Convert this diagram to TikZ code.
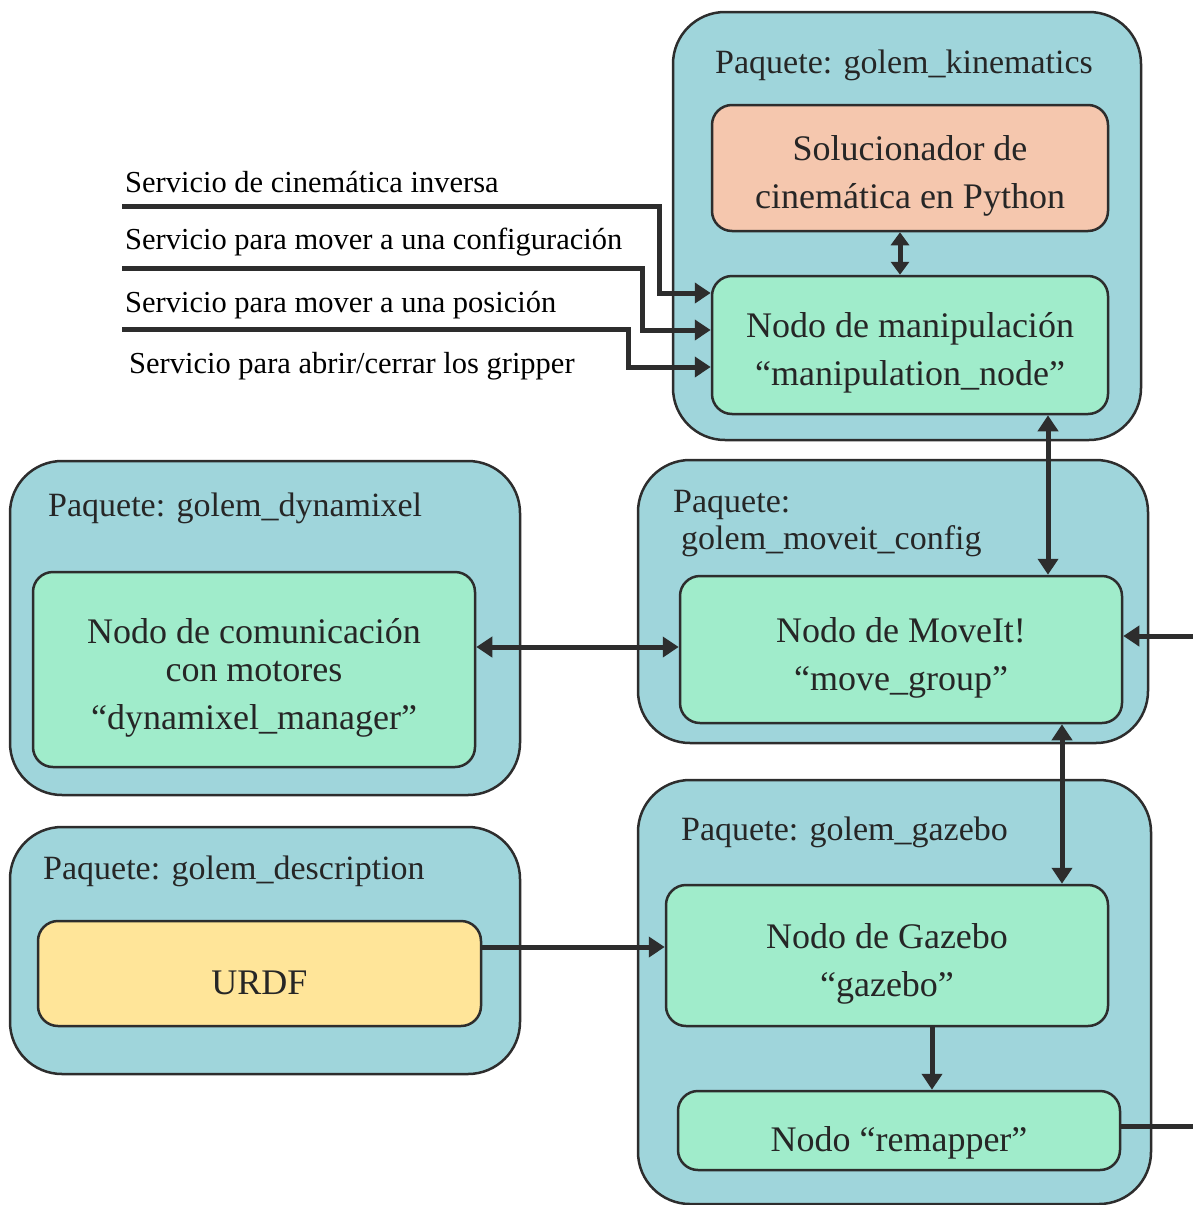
\documentclass[tikz,border=0pt]{standalone}
\usepackage{fontspec}
\setmainfont{Liberation Serif}
\usetikzlibrary{arrows.meta}
\definecolor{pkgfill}{HTML}{9FD5DB}
\definecolor{nodefill}{HTML}{A0ECCB}
\definecolor{peach}{HTML}{F5C7AE}
\definecolor{urdfyellow}{HTML}{FFE599}
\definecolor{edgecol}{HTML}{2D2D2D}
\definecolor{txt}{HTML}{262626}
\newcommand\mystrut[1][41pt]{\rule{0pt}{#1}}
\begin{document}
\begin{tikzpicture}[x=1pt,y=-1pt,
 pkg/.style={draw=edgecol, line width=2.5pt, fill=pkgfill, rounded corners=52pt, inner sep=0pt},
 box/.style={draw=edgecol, line width=2.5pt, fill=nodefill, rounded corners=20pt, inner sep=0pt, align=center, text=txt, font=\fontsize{36}{48}\selectfont},
 pkglabel/.style={anchor=west, inner sep=0pt, text=txt, font=\fontsize{34}{44}\selectfont},
 svc/.style={anchor=base west, inner sep=0pt, text=black, font=\fontsize{30.5}{36}\selectfont},
 conn/.style={draw=edgecol, line width=5pt},
 arr/.style={conn, -{Triangle[length=16pt,width=20pt]}},
 darr/.style={conn, {Triangle[length=16pt,width=20pt]}-{Triangle[length=16pt,width=20pt]}},
 sdarr/.style={conn, {Triangle[length=13pt,width=18pt]}-{Triangle[length=13pt,width=18pt]}},
]
\useasboundingbox (0,0) rectangle (1193,1205);

% packages
\node[pkg, minimum width=468pt, minimum height=428pt] (pkin) at (907,226) {};
\node[pkg, minimum width=510pt, minimum height=283pt] (pmove) at (893,601.5) {};
\node[pkg, minimum width=510pt, minimum height=334pt] (pdyn) at (265,628) {};
\node[pkg, minimum width=513pt, minimum height=424pt] (pgaz) at (894.5,992) {};
\node[pkg, minimum width=510pt, minimum height=247pt] (pdesc) at (265,950.5) {};

\node[pkglabel] (lkin) at (715,65) {Paquete: golem\_kinematics};
\node[pkglabel] (lmove1) at (673,505) {Paquete:};
\node[pkglabel] (lmove2) at (681,541) {golem\_moveit\_config};
\node[pkglabel] (ldyn) at (48,508) {Paquete: golem\_dynamixel};
\node[pkglabel] (lgaz) at (681,832) {Paquete: golem\_gazebo};
\node[pkglabel] (ldesc) at (43,871) {Paquete: golem\_description};

% nodes
\node[box, fill=peach, minimum width=396pt, minimum height=126pt] (solver) at (910,168) {\mystrut Solucionador de\\cinemática en Python};
\node[box, minimum width=396pt, minimum height=138pt] (manip) at (910,345) {\mystrut Nodo de manipulación\\“manipulation\_node”};
\node[box, minimum width=442pt, minimum height=147pt] (moveit) at (901,649.5) {\mystrut Nodo de MoveIt!\\“move\_group”};
\node[box, minimum width=442pt, minimum height=195pt] (dyn) at (254,669.5) {\mystrut Nodo de comunicación\\[-10pt]con motores\\“dynamixel\_manager”};
\node[box, minimum width=442pt, minimum height=141pt] (gazebo) at (887,955.5) {\mystrut Nodo de Gazebo\\“gazebo”};
\node[box, minimum width=442pt, minimum height=79pt] (remap) at (899,1130.5) {\mystrut[49pt]Nodo “remapper”};
\node[box, fill=urdfyellow, minimum width=443pt, minimum height=105pt] (urdf) at (259.5,973.5) {\mystrut[42pt]URDF};

% service labels
\node[svc] (t1) at (125,192) {Servicio de cinemática inversa};
\node[svc] (t2) at (125,249) {Servicio para mover a una configuración};
\node[svc] (t3) at (125,312) {Servicio para mover a una posición};
\node[svc] (t4) at (129,373) {Servicio para abrir/cerrar los gripper};

% service connectors
\coordinate (s1) at (122,206);
\coordinate (s2) at (122,268);
\coordinate (s3) at (122,329);
\coordinate (e1) at (659,293);
\coordinate (e2) at (642,330);
\coordinate (e3) at (628,367);
\draw[arr] (s1) -| (e1) -- (manip.west |- e1);
\draw[arr] (s2) -| (e2) -- (manip.west |- e2);
\draw[arr] (s3) -| (e3) -- (manip.west |- e3);

% other connectors
\draw[sdarr] ([xshift=-10pt]solver.south) -- ([xshift=-10pt]manip.north);
\coordinate (m1) at ([xshift=138pt]manip.south);
\draw[darr] (m1) -- (moveit.north -| m1);
\coordinate (d1) at ([yshift=22.5pt]dyn.east);
\draw[darr] (d1) -- (moveit.west |- d1);
\coordinate (g1) at ([xshift=161pt]moveit.south);
\draw[darr] (g1) -- (gazebo.north -| g1);
\coordinate (ext1) at (1193,636);
\draw[arr] (ext1) -- (moveit.east |- ext1);
\coordinate (r1) at ([xshift=45pt]gazebo.south);
\draw[arr] (r1) -- (remap.north -| r1);
\coordinate (ext2) at (1193,1126);
\draw[conn] (remap.east |- ext2) -- (ext2);
\coordinate (u1) at ([yshift=26.5pt]urdf.east);
\draw[arr] (u1) -- (gazebo.west |- u1);
\end{tikzpicture}
\end{document}
